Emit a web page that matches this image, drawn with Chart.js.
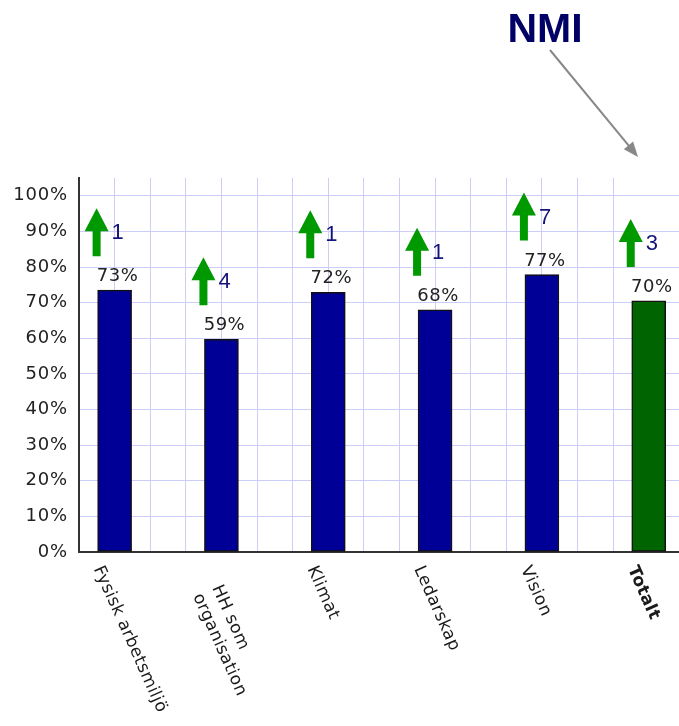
<!DOCTYPE html>
<html>
<head>
<meta charset="utf-8">
<script src="https://cdn.jsdelivr.net/npm/chart.js@4.4.1/dist/chart.umd.min.js"></script>
<style>
  html, body { margin: 0; padding: 0; background: #fff; overflow: hidden; }
  canvas { display: block; }
</style>
</head>
<body>
<canvas id="barChart" width="679" height="726"></canvas>
<script>
const categories = [['Fysisk arbetsmiljö'], ['HH som', 'organisation'], ['Klimat'], ['Ledarskap'], ['Vision'], ['Totalt']]
const scores = [73.5, 59.7, 72.9, 68.0, 77.9, 70.5]
const scoreLabels = ['73%', '59%', '72%', '68%', '77%', '70%']
const changes = [1, 4, 1, 1, 7, 3]
const yTicks = [0, 10, 20, 30, 40, 50, 60, 70, 80, 90, 100]

const barColors = scores.map((_, i) => i === scores.length - 1 ? '#006400' : '#000096')

// every category sits on every third vertical grid line
const slot = i => i * 3 + 1

const annotations = {
    id: 'annotations',
    beforeDraw(chart) {
        chart.ctx.letterSpacing = '0.8px'
    },
    afterDatasetsDraw(chart) {
        const ctx = chart.ctx
        const meta = chart.getDatasetMeta(0)
        const xScale = chart.scales.x
        const area = chart.chartArea

        meta.data.forEach((bar, i) => {
            const x = bar.x
            const top = bar.y

            // value on top of the bar
            ctx.save()
            ctx.letterSpacing = '0.5px'
            ctx.fillStyle = '#222'
            ctx.font = '18px "DejaVu Sans"'
            ctx.textAlign = 'center'
            ctx.textBaseline = 'alphabetic'
            ctx.fillText(scoreLabels[i], x + 3, top - 9)
            ctx.restore()

            // green change arrow
            const ax = x - 18
            const bottom = top - 34
            const tip = top - 82
            ctx.save()
            ctx.fillStyle = '#009900'
            ctx.beginPath()
            ctx.moveTo(ax, tip)
            ctx.lineTo(ax + 12, tip + 23)
            ctx.lineTo(ax + 4, tip + 23)
            ctx.lineTo(ax + 4, bottom)
            ctx.lineTo(ax - 4, bottom)
            ctx.lineTo(ax - 4, tip + 23)
            ctx.lineTo(ax - 12, tip + 23)
            ctx.closePath()
            ctx.fill()

            ctx.letterSpacing = '0px'
            ctx.fillStyle = '#14147a'
            ctx.font = '22px "Liberation Sans"'
            ctx.textAlign = 'left'
            ctx.textBaseline = 'middle'
            ctx.fillText(String(changes[i]), x - 3, top - 57)
            ctx.restore()
        })

        // rotated category labels under the axis
        const angle = 66 * Math.PI / 180
        categories.forEach((lines, i) => {
            const px = xScale.getPixelForValue(slot(i))
            ctx.save()
            ctx.letterSpacing = '0.4px'
            ctx.fillStyle = '#1a1a1a'
            ctx.font = (i === categories.length - 1 ? 'bold ' : '') + '17px "DejaVu Sans"'
            ctx.textAlign = 'left'
            ctx.textBaseline = 'middle'
            ctx.translate(px - 17, area.bottom + 15)
            ctx.rotate(angle)
            if (lines.length === 1) {
                ctx.fillText(lines[0], 0, 0)
            } else {
                lines.forEach((line, k) => ctx.fillText(line, 22, -3 + k * 21))
            }
            ctx.restore()
        })

        // NMI marker with pointer to the total
        ctx.save()
        ctx.letterSpacing = '0px'
        ctx.fillStyle = '#000066'
        ctx.font = 'bold 41px "Liberation Sans"'
        ctx.textAlign = 'center'
        ctx.textBaseline = 'alphabetic'
        ctx.fillText('NMI', 545, 42)

        const fromX = 550, fromY = 50, toX = 638, toY = 157
        const dir = Math.atan2(toY - fromY, toX - fromX)
        ctx.strokeStyle = '#888'
        ctx.fillStyle = '#888'
        ctx.lineWidth = 2
        ctx.beginPath()
        ctx.moveTo(fromX, fromY)
        ctx.lineTo(toX - 12 * Math.cos(dir), toY - 12 * Math.sin(dir))
        ctx.stroke()
        ctx.beginPath()
        ctx.moveTo(toX, toY)
        ctx.lineTo(toX - 15 * Math.cos(dir) + 6 * Math.sin(dir), toY - 15 * Math.sin(dir) - 6 * Math.cos(dir))
        ctx.lineTo(toX - 15 * Math.cos(dir) - 6 * Math.sin(dir), toY - 15 * Math.sin(dir) + 6 * Math.cos(dir))
        ctx.closePath()
        ctx.fill()
        ctx.restore()
    }
}

const chartData = {
    datasets: [{
        data: scores.map((v, i) => ({ x: slot(i), y: v })),
        backgroundColor: barColors,
        borderColor: '#111',
        borderWidth: 1.5,
        borderSkipped: false,
        barThickness: 34
    }]
}

const chartConfig = {
    type: 'bar',
    data: chartData,
    options: {
        responsive: false,
        animation: false,
        events: [],
        layout: { padding: { left: 0, top: 178, right: 0, bottom: 0 } },
        plugins: {
            legend: { display: false },
            tooltip: { enabled: false }
        },
        scales: {
            x: {
                type: 'linear',
                offset: false,
                min: 0,
                max: 16.85,
                ticks: { stepSize: 1, display: false },
                grid: { offset: false, color: '#cdcdfa', lineWidth: 1, drawTicks: false },
                border: { color: '#333', width: 2 },
                afterFit: s => { s.height = 174 }
            },
            y: {
                min: 0,
                max: 105,
                ticks: {
                    stepSize: 10,
                    padding: 11,
                    color: '#222',
                    font: { family: 'DejaVu Sans', size: 18 },
                    callback: v => v + '%'
                },
                afterBuildTicks: s => { s.ticks = yTicks.map(v => ({ value: v })) },
                grid: { color: '#cdcdfa', lineWidth: 1, drawTicks: false },
                border: { color: '#333', width: 2 },
                afterFit: s => { s.width = 79 }
            }
        }
    },
    plugins: [annotations]
}

const barChart = new Chart(document.getElementById('barChart'), chartConfig)
</script>
</body>
</html>
